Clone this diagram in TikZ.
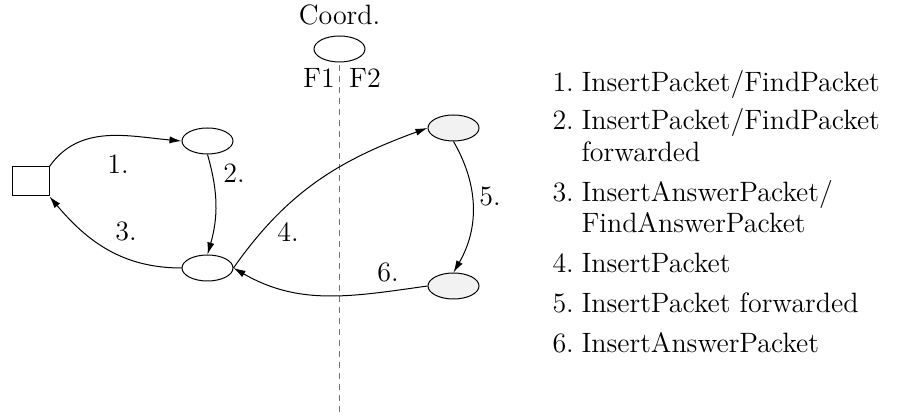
\documentclass[tikz,border=0pt]{standalone}
\usetikzlibrary{shapes.geometric,arrows.meta}
\begin{document}
\begin{tikzpicture}[x=0.5pt,y=0.5pt,
  font=\fontsize{14}{16}\selectfont,
  every path/.style={line width=0.5pt},
  oval/.style={draw,ellipse,minimum width=25.5pt,minimum height=13pt,inner sep=0pt},
  remote/.style={oval,fill=black!5},
  box/.style={draw,rectangle,minimum width=18.5pt,minimum height=14.5pt,inner sep=0pt},
  conn/.style={-{Latex[length=6pt,width=3.6pt]}},
  lbl/.style={inner sep=0pt},
  leg/.style={inner sep=0pt,anchor=base west}]
\useasboundingbox (0,0) rectangle (897,416);
% nodes
\node[box] (sq) at (30.5,234.5) {};
\node[oval] (e1) at (207.5,275) {};
\node[oval] (e2) at (207.5,148) {};
\node[oval] (ec) at (339.5,367) {};
\node[remote] (e3) at (453.5,288) {};
\node[remote] (e4) at (453.5,130) {};
\node[lbl,anchor=base] (coord) at (339.5,391) {Coord.};
\node[lbl,anchor=base] (f1) at (319,328) {F1};
\node[lbl,anchor=base] (f2) at (365,328) {F2};
\coordinate (dtop) at (339.5,351);
\coordinate (dbot) at (339.5,3);
\draw[black!55,dash pattern=on 3pt off 2.5pt] (dtop) -- (dbot);
% connectors
\draw[conn] (sq.north east) to[out=55,in=175] (e1.west);
\draw[conn] (e1.south) to[bend left=16] (e2.north);
\draw[conn] (e2.west) to[out=180,in=-50] (sq.south east);
\draw[conn] (e2.east) to[out=55,in=200] (e3.west);
\draw[conn] (e3.south) to[bend left=30] (e4.north);
\draw[conn] (e4.west) to[out=188,in=-30] (e2.east);
% edge labels
\node[lbl] (l1) at (118,252) {1.};
\node[lbl] (l2) at (234,243) {2.};
\node[lbl] (l3) at (126,185) {3.};
\node[lbl] (l4) at (288,184) {4.};
\node[lbl] (l5) at (490,219) {5.};
\node[lbl] (l6) at (388,144) {6.};
% legend
\node[leg] (n1) at (552,324) {1.};
\node[leg] (t1) at (581,324) {InsertPacket/FindPacket};
\node[leg] (n2) at (552,286) {2.};
\node[leg] (t2) at (581,286) {InsertPacket/FindPacket};
\node[leg] (t2b) at (581,254) {forwarded};
\node[leg] (n3) at (552,214) {3.};
\node[leg] (t3) at (581,214) {InsertAnswerPacket/};
\node[leg] (t3b) at (581,183) {FindAnswerPacket};
\node[leg] (n4) at (552,143) {4.};
\node[leg] (t4) at (581,143) {InsertPacket};
\node[leg] (n5) at (552,103) {5.};
\node[leg] (t5) at (581,103) {InsertPacket forwarded};
\node[leg] (n6) at (552,63) {6.};
\node[leg] (t6) at (581,63) {InsertAnswerPacket};
\end{tikzpicture}
\end{document}
